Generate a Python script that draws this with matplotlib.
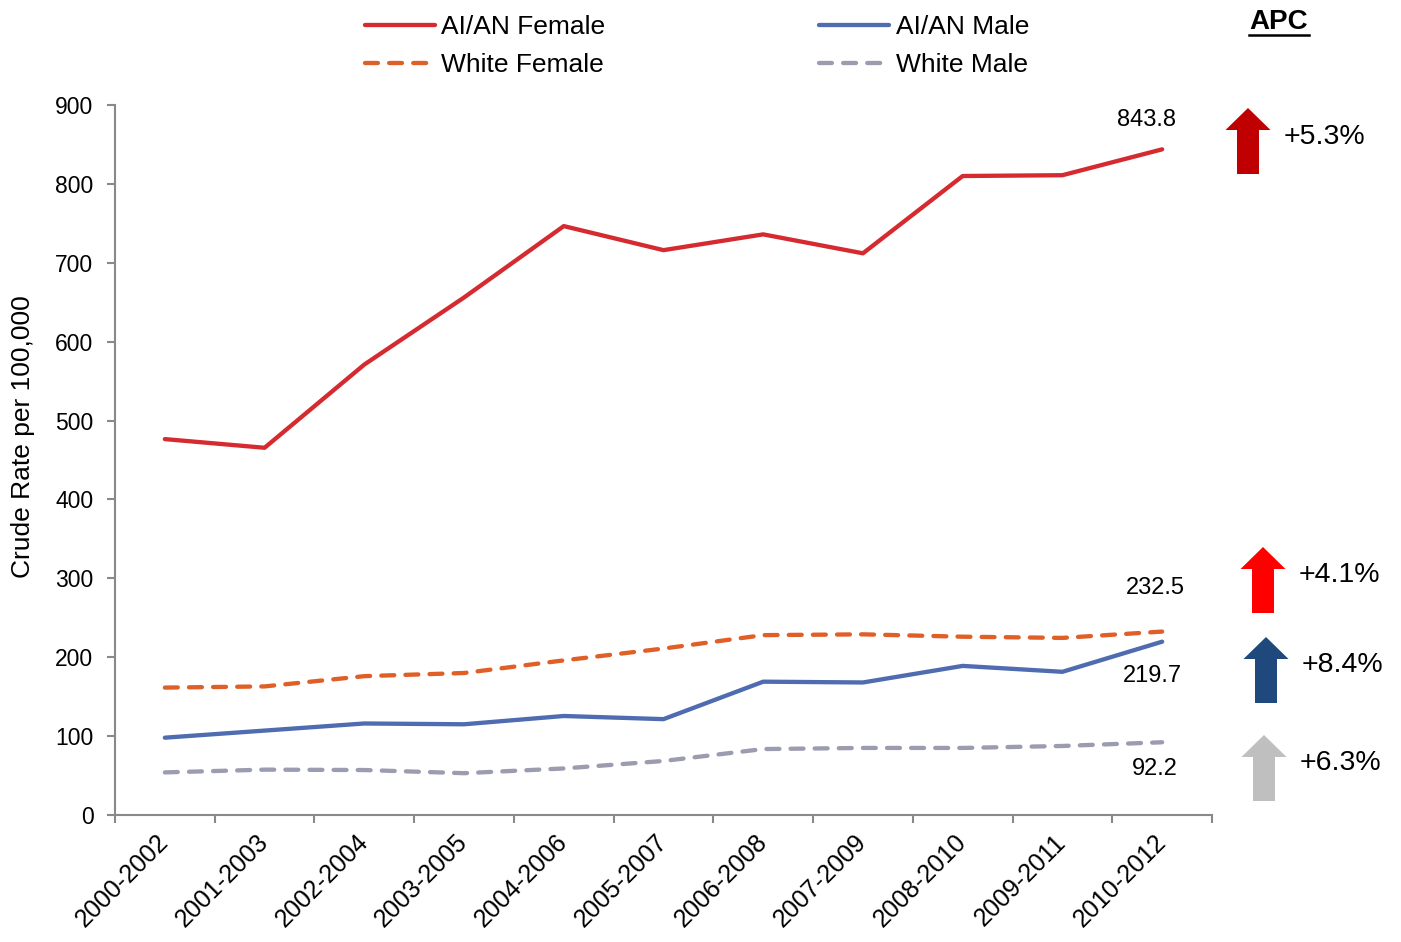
import matplotlib
matplotlib.use("Agg")
import matplotlib.pyplot as plt
from matplotlib.patches import Polygon
from matplotlib.lines import Line2D

plt.rcParams['font.family'] = ['Liberation Sans', 'DejaVu Sans']

periods = ["2000-2002", "2001-2003", "2002-2004", "2003-2005", "2004-2006", "2005-2007",
           "2006-2008", "2007-2009", "2008-2010", "2009-2011", "2010-2012"]
aian_female = [476.5, 465.5, 571, 656, 746.5, 716, 736, 712, 810, 811, 843.8]
white_female = [161.5, 163, 176, 180, 196, 211, 228, 229, 226, 224.5, 232.5]
aian_male = [98, 107, 116, 115, 125.5, 121.5, 169, 168, 189, 181.5, 219.7]
white_male = [54, 57.5, 57, 53, 59, 68.5, 83.6, 85, 85, 87.5, 92.2]

apc_labels = ["+5.3%", "+4.1%", "+8.4%", "+6.3%"]

W, H = 1401, 942
fig = plt.figure(figsize=(W / 100, H / 100), dpi=100)
ax = fig.add_axes([115 / W, 1 - 815 / H, (1212 - 115) / W, (815 - 105) / H])

x = list(range(len(periods)))
c_af, c_wf, c_am, c_wm = "#D52B30", "#E05F27", "#4F6CB1", "#9C9CB0"
lw = 3.1
dash = (0, (3, 2.6))
ax.plot(x, aian_female, color=c_af, lw=lw, solid_capstyle='round', label="AI/AN Female")
ax.plot(x, aian_male, color=c_am, lw=lw, solid_capstyle='round', label="AI/AN Male")
ax.plot(x, white_female, color=c_wf, lw=lw, ls=dash, dash_capstyle='round', label="White Female")
ax.plot(x, white_male, color=c_wm, lw=lw, ls=dash, dash_capstyle='round', label="White Male")

ax.set_xlim(-0.5, len(periods) - 0.5)
ax.set_ylim(0, 900)
ax.set_yticks(range(0, 901, 100))
ax.set_xticks([i - 0.5 for i in range(len(periods) + 1)])
ax.set_xticklabels([])
ax.set_xticks(x, minor=True)
ax.set_xticklabels(periods, minor=True, rotation=45, ha='right', va='center',
                   rotation_mode='anchor', fontsize=18)
ax.tick_params(axis='x', which='minor', length=0, pad=17)
ax.tick_params(axis='x', which='major', length=5.5, width=1.5, color='#898989')
ax.tick_params(axis='y', length=5.5, width=1.5, color='#898989', labelsize=16.5, pad=10)
for s in ['top', 'right']:
    ax.spines[s].set_visible(False)
for s in ['left', 'bottom']:
    ax.spines[s].set_color('#898989')
    ax.spines[s].set_linewidth(1.5)
ax.set_ylabel("Crude Rate per 100,000", fontsize=19)
ax.yaxis.set_label_coords((35 - 115) / 1097, (815 - 437) / 710)

# data labels for last points
lab_kw = dict(textcoords='offset points', ha='center', va='center', fontsize=17)
ax.annotate(f"{aian_female[-1]:.1f}", (x[-1], aian_female[-1]), xytext=(-11.5, 21), **lab_kw)
ax.annotate(f"{white_female[-1]:.1f}", (x[-1], white_female[-1]), xytext=(-5, 31.5), **lab_kw)
ax.annotate(f"{aian_male[-1]:.1f}", (x[-1], aian_male[-1]), xytext=(-7, -25), **lab_kw)
ax.annotate(f"{white_male[-1]:.1f}", (x[-1], white_male[-1]), xytext=(-5, -19.5), **lab_kw)

# legend
handles = [Line2D([], [], color=c_af, lw=lw, solid_capstyle='round'),
           Line2D([], [], color=c_wf, lw=lw, ls=dash, dash_capstyle='round'),
           Line2D([], [], color=c_am, lw=lw, solid_capstyle='round'),
           Line2D([], [], color=c_wm, lw=lw, ls=dash, dash_capstyle='round')]
labels = ["AI/AN Female", "White Female", "AI/AN Male", "White Male"]
fig.legend(handles, labels, ncol=2, loc='center', bbox_to_anchor=(697 / W, 1 - 46 / H),
           frameon=False, fontsize=19, handlelength=2.65, handletextpad=0.25,
           columnspacing=8.1, labelspacing=0.55, borderpad=0)

# APC header
fig.text(1279 / W, 1 - 22 / H, "APC", fontsize=20, fontweight='bold', ha='center', va='center')
fig.add_artist(Line2D([1249 / W, 1309 / W], [1 - 35 / H, 1 - 35 / H], color='black', lw=1.8))


def arrow(xc, ytop, color):
    pts = [(xc - 22.5, ytop + 22), (xc, ytop), (xc + 22.5, ytop + 22),
           (xc + 11, ytop + 22), (xc + 11, ytop + 66), (xc - 11, ytop + 66), (xc - 11, ytop + 22)]
    pts = [(px / W, 1 - py / H) for px, py in pts]
    fig.add_artist(Polygon(pts, closed=True, facecolor=color, edgecolor='none', transform=fig.transFigure))


arrow_specs = [(1248, 108, "#C00000"), (1263, 547, "#FF0000"), (1266, 637, "#1F497D"), (1264, 735, "#BFBFBF")]
text_pos = [(1284, 137), (1299, 575), (1302, 665), (1300, 763)]
for (xc, yt, col), (tx, ty), lab in zip(arrow_specs, text_pos, apc_labels):
    arrow(xc, yt, col)
    fig.text(tx / W, 1 - ty / H, lab, fontsize=20.5, ha='left', va='center')

fig.savefig("out.png", dpi=100)
